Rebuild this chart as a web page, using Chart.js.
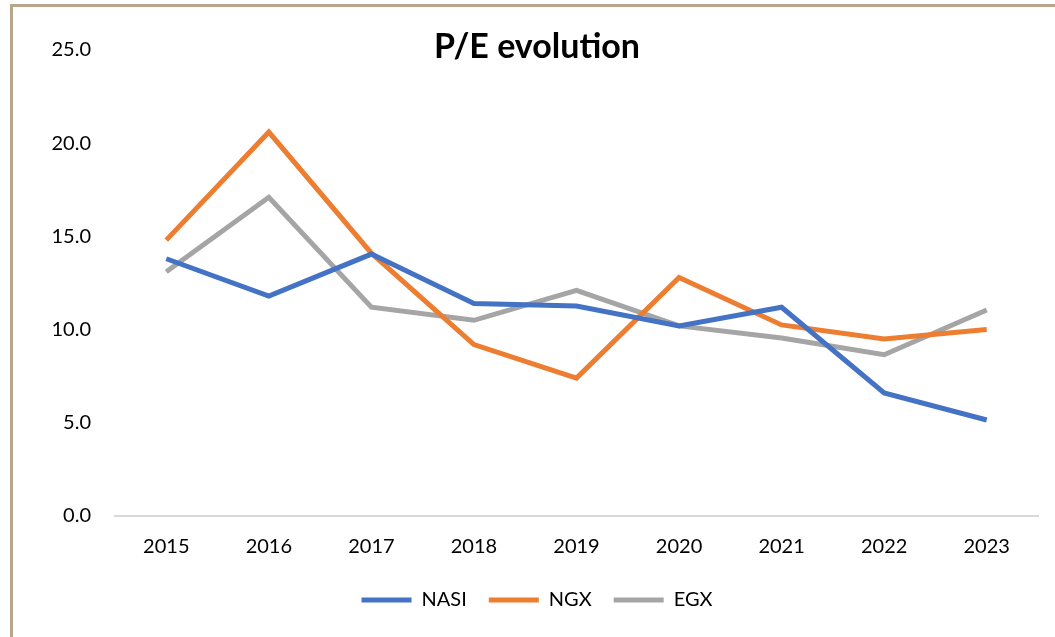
<!DOCTYPE html>
<html>
<head>
<meta charset="utf-8">
<script src="https://cdn.jsdelivr.net/npm/chart.js@4.4.1/dist/chart.umd.min.js"></script>
<style>
  html, body { margin: 0; padding: 0; background: #fff; overflow: hidden; }
  #wrap { position: relative; width: 1055px; height: 637px; }
  #frame { position: absolute; left: 10px; top: 4px; width: 1100px; height: 700px;
           border-left: 3px solid #B8A68C; border-top: 3px solid #B8A68C; pointer-events: none; }
  canvas { position: absolute; left: 0; top: 0; }
</style>
</head>
<body>
<div id="wrap">
  <canvas id="c" width="1055" height="637"></canvas>
  <div id="frame"></div>
</div>
<script>
const years = ['2015','2016','2017','2018','2019','2020','2021','2022','2023'];
const nasi = [13.8, 11.8, 14.05, 11.4, 11.27, 10.2, 11.2, 6.6, 5.15];
const ngx  = [14.8, 20.6, 14.1, 9.2, 7.4, 12.8, 10.25, 9.5, 10.0];
const egx  = [13.1, 17.1, 11.2, 10.5, 12.1, 10.2, 9.55, 8.65, 11.05];
const seriesNames = ['NASI', 'NGX', 'EGX'];
const seriesColors = ['#4472C4', '#ED7D31', '#A5A5A5'];
const yTicks = [0, 5, 10, 15, 20, 25];

const FONT = 'Lato, "Open Sans", sans-serif';

const mk = (i, data) => ({
  label: seriesNames[i], data,
  borderColor: seriesColors[i], backgroundColor: seriesColors[i],
  borderWidth: 5, pointRadius: 0, tension: 0, fill: false,
  borderCapStyle: 'butt', borderJoinStyle: 'miter'
});

new Chart(document.getElementById('c'), {
  type: 'line',
  data: { labels: years, datasets: [mk(0, nasi), mk(1, ngx), mk(2, egx)] },
  plugins: [{
    id: 'bg',
    beforeDraw(chart) {
      const ctx = chart.ctx; ctx.save(); ctx.fillStyle = '#fff';
      ctx.fillRect(0, 0, chart.width, chart.height); ctx.restore();
    }
  }],
  options: {
    responsive: false, animation: false, devicePixelRatio: 1,
    layout: { padding: { left: 36, right: 17, top: 12, bottom: 17 } },
    plugins: {
      title: {
        display: true, text: 'P/E evolution', color: '#000',
        font: { family: FONT, size: 34, weight: 'bold' },
        padding: { top: 14.6, bottom: -17.4 }
      },
      legend: {
        position: 'bottom',
        labels: {
          boxWidth: 50, boxHeight: 5, padding: 22, color: '#000',
          font: { family: FONT, size: 20 },
          generateLabels(chart) {
            const items = Chart.defaults.plugins.legend.labels.generateLabels(chart);
            items.forEach(it => { it.lineWidth = 0; });
            return items;
          }
        }
      },
      tooltip: { enabled: false }
    },
    scales: {
      x: {
        offset: true,
        afterFit(scale) { scale.height = 52; },
        grid: { display: false, drawTicks: false, offset: true },
        border: { display: true, color: '#D9D9D9', width: 2 },
        ticks: { color: '#000', padding: 19, font: { family: FONT, size: 20 }, maxRotation: 0 }
      },
      y: {
        min: yTicks[0], max: yTicks[yTicks.length - 1],
        afterFit(scale) { scale.width = 79; },
        afterBuildTicks(scale) { scale.ticks = yTicks.map(v => ({ value: v })); },
        grid: { display: false, drawTicks: false },
        border: { display: false },
        ticks: { color: '#000', padding: 24, font: { family: FONT, size: 20 },
                 callback: v => Number(v).toFixed(1) }
      }
    }
  }
});
</script>
</body>
</html>
